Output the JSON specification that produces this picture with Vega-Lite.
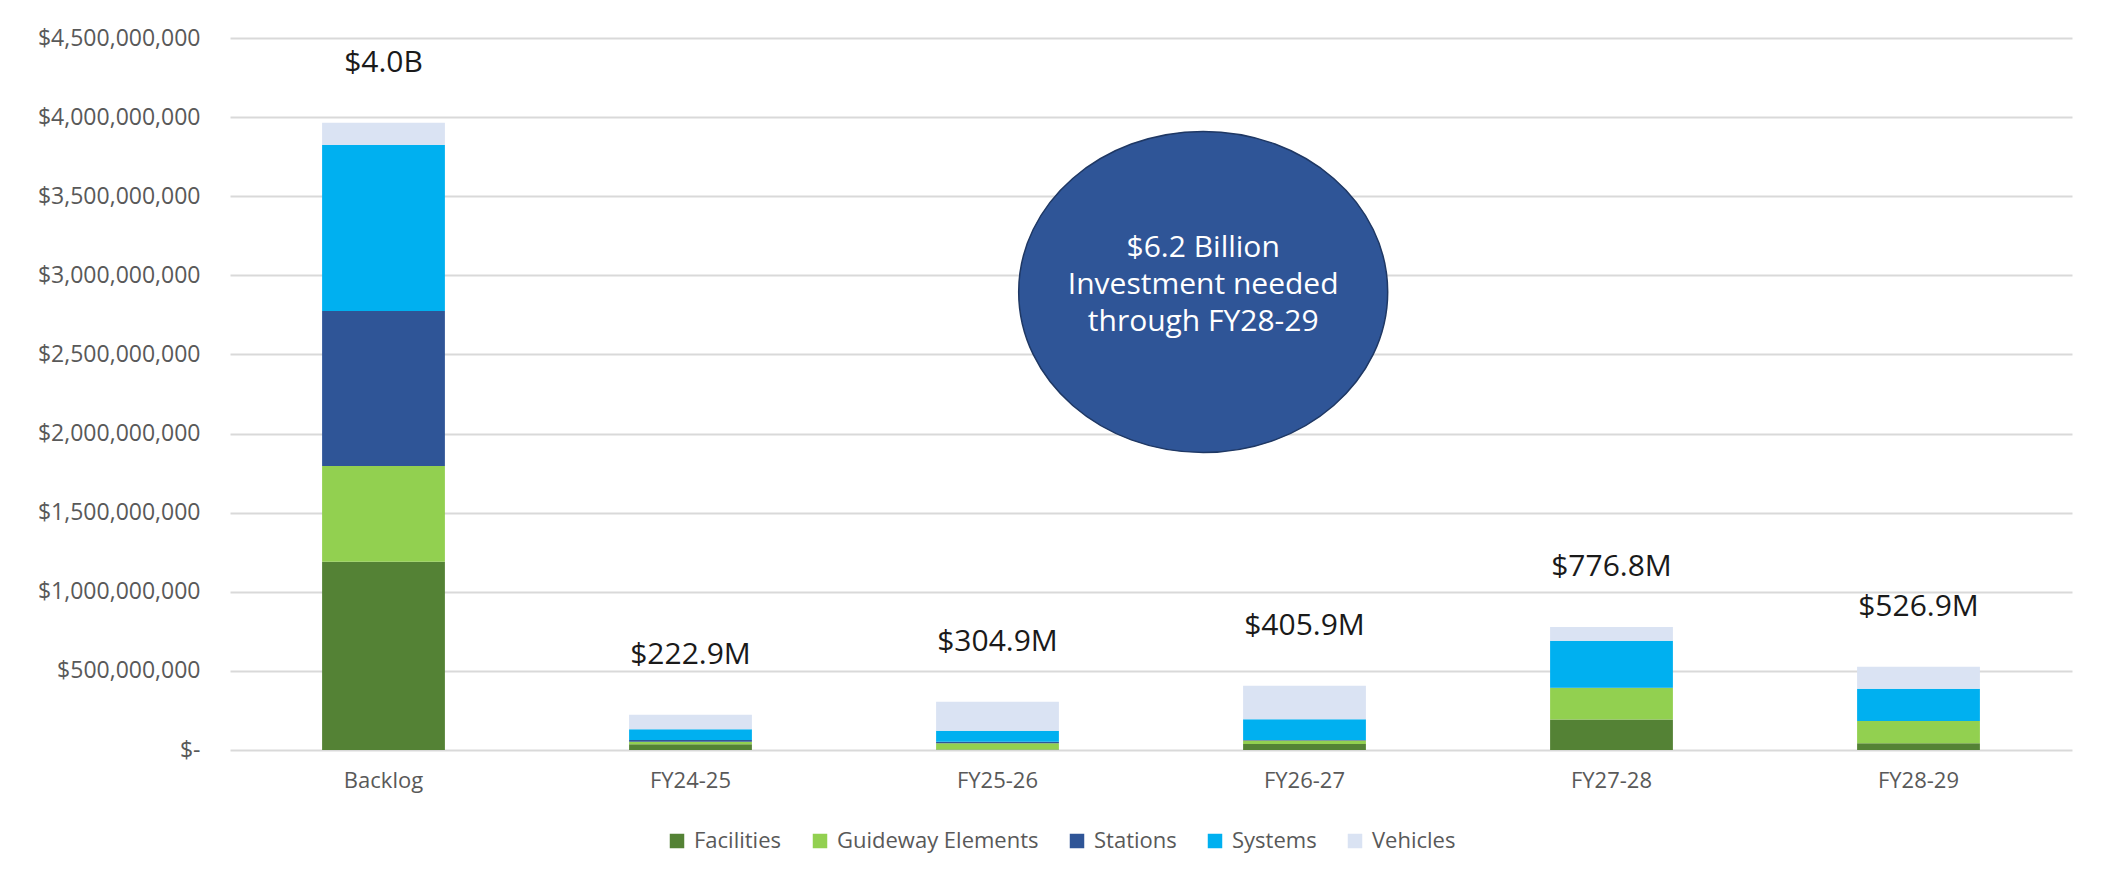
{
  "$schema": "https://vega.github.io/schema/vega-lite/v6.json",
  "autosize": "none",
  "width": 1842,
  "height": 712,
  "padding": {"left": 230, "top": 38, "right": 34, "bottom": 130},
  "background": "white",
  "config": {"font": "Open Sans", "view": {"stroke": null}},
  "datasets": {
    "costs": [
      {"period": "Backlog", "category": "Facilities", "amount": 1190000000},
      {"period": "Backlog", "category": "Guideway Elements", "amount": 605000000},
      {"period": "Backlog", "category": "Stations", "amount": 980000000},
      {"period": "Backlog", "category": "Systems", "amount": 1049000000},
      {"period": "Backlog", "category": "Vehicles", "amount": 141000000},
      {"period": "FY24-25", "category": "Facilities", "amount": 36000000},
      {"period": "FY24-25", "category": "Guideway Elements", "amount": 16000000},
      {"period": "FY24-25", "category": "Stations", "amount": 11000000},
      {"period": "FY24-25", "category": "Systems", "amount": 68000000},
      {"period": "FY24-25", "category": "Vehicles", "amount": 91900000},
      {"period": "FY25-26", "category": "Facilities", "amount": 3000000},
      {"period": "FY25-26", "category": "Guideway Elements", "amount": 39000000},
      {"period": "FY25-26", "category": "Stations", "amount": 10000000},
      {"period": "FY25-26", "category": "Systems", "amount": 70000000},
      {"period": "FY25-26", "category": "Vehicles", "amount": 182900000},
      {"period": "FY26-27", "category": "Facilities", "amount": 38000000},
      {"period": "FY26-27", "category": "Guideway Elements", "amount": 22000000},
      {"period": "FY26-27", "category": "Stations", "amount": 3000000},
      {"period": "FY26-27", "category": "Systems", "amount": 131000000},
      {"period": "FY26-27", "category": "Vehicles", "amount": 211900000},
      {"period": "FY27-28", "category": "Facilities", "amount": 192000000},
      {"period": "FY27-28", "category": "Guideway Elements", "amount": 200000000},
      {"period": "FY27-28", "category": "Stations", "amount": 2000000},
      {"period": "FY27-28", "category": "Systems", "amount": 297000000},
      {"period": "FY27-28", "category": "Vehicles", "amount": 85800000},
      {"period": "FY28-29", "category": "Facilities", "amount": 42000000},
      {"period": "FY28-29", "category": "Guideway Elements", "amount": 141000000},
      {"period": "FY28-29", "category": "Stations", "amount": 1000000},
      {"period": "FY28-29", "category": "Systems", "amount": 203000000},
      {"period": "FY28-29", "category": "Vehicles", "amount": 139900000}
    ],
    "totals": [
      {"period": "Backlog", "total": 3965000000, "label": "$4.0B"},
      {"period": "FY24-25", "total": 222900000, "label": "$222.9M"},
      {"period": "FY25-26", "total": 304900000, "label": "$304.9M"},
      {"period": "FY26-27", "total": 405900000, "label": "$405.9M"},
      {"period": "FY27-28", "total": 776800000, "label": "$776.8M"},
      {"period": "FY28-29", "total": 526900000, "label": "$526.9M"}
    ],
    "note": [
      {"pos": 3.17, "amount": 2895000000, "text": ["$6.2 Billion", "Investment needed", "through FY28-29"]}
    ]
  },
  "layer": [
    {
      "layer": [
        {
          "data": {"name": "costs"},
          "mark": {"type": "bar"},
          "encoding": {
            "x": {
              "field": "period", "type": "nominal", "sort": null,
              "scale": {"domain": ["Backlog", "FY24-25", "FY25-26", "FY26-27", "FY27-28", "FY28-29"], "paddingInner": 0.6, "paddingOuter": 0.3},
              "axis": {"title": null, "labelAngle": 0, "labelFontSize": 22, "labelColor": "#595959", "labelPadding": 20, "ticks": false, "domain": false, "grid": false}
            },
            "y": {
              "field": "amount", "type": "quantitative", "stack": "zero",
              "scale": {"domain": [0, 4500000000], "nice": false},
              "axis": {
                "title": null,
                "values": [0, 500000000, 1000000000, 1500000000, 2000000000, 2500000000, 3000000000, 3500000000, 4000000000, 4500000000],
                "labelExpr": "datum.value === 0 ? '$-' : '$' + format(datum.value, ',')",
                "labelFontSize": 23, "labelColor": "#595959", "labelPadding": 30,
                "ticks": false, "domain": false, "gridColor": "#d9d9d9", "gridWidth": 2
              }
            },
            "color": {
              "field": "category", "type": "nominal",
              "scale": {
                "domain": ["Facilities", "Guideway Elements", "Stations", "Systems", "Vehicles"],
                "range": ["#548235", "#92D050", "#2F5597", "#00B0F0", "#DAE3F3"]
              },
              "legend": {
                "title": null, "orient": "none", "legendX": 436, "legendY": 792,
                "direction": "horizontal", "columns": 5, "symbolType": "square", "symbolSize": 210,
                "symbolStrokeWidth": 0, "labelFontSize": 22, "labelColor": "#595959",
                "columnPadding": 27, "labelOffset": 6, "labelLimit": 400
              }
            },
            "order": {"field": "category", "sort": "ascending"}
          }
        },
        {
          "data": {"name": "totals"},
          "mark": {"type": "text", "dy": -60, "fontSize": 30, "color": "#1a1a1a", "baseline": "middle"},
          "encoding": {
            "x": {"field": "period", "type": "nominal", "sort": null},
            "y": {"field": "total", "type": "quantitative"},
            "text": {"field": "label"}
          }
        }
      ]
    },
    {
      "data": {"name": "note"},
      "encoding": {
        "x": {"field": "pos", "type": "quantitative", "scale": {"domain": [0, 6], "nice": false}, "axis": null},
        "y": {"field": "amount", "type": "quantitative"}
      },
      "layer": [
        {
          "mark": {
            "type": "point", "filled": true, "opacity": 1, "fill": "#2F5597", "stroke": "#1F3864", "strokeWidth": 1.5,
            "size": 136161,
            "shape": "M 1 0 C 1 0.4805 0.5523 0.87 0 0.87 C -0.5523 0.87 -1 0.4805 -1 0 C -1 -0.4805 -0.5523 -0.87 0 -0.87 C 0.5523 -0.87 1 -0.4805 1 0 Z"
          }
        },
        {
          "mark": {"type": "text", "color": "white", "fontSize": 30, "lineHeight": 37, "baseline": "middle", "align": "center", "dy": -44},
          "encoding": {"text": {"field": "text"}}
        }
      ]
    }
  ],
  "resolve": {"scale": {"x": "independent"}}
}
